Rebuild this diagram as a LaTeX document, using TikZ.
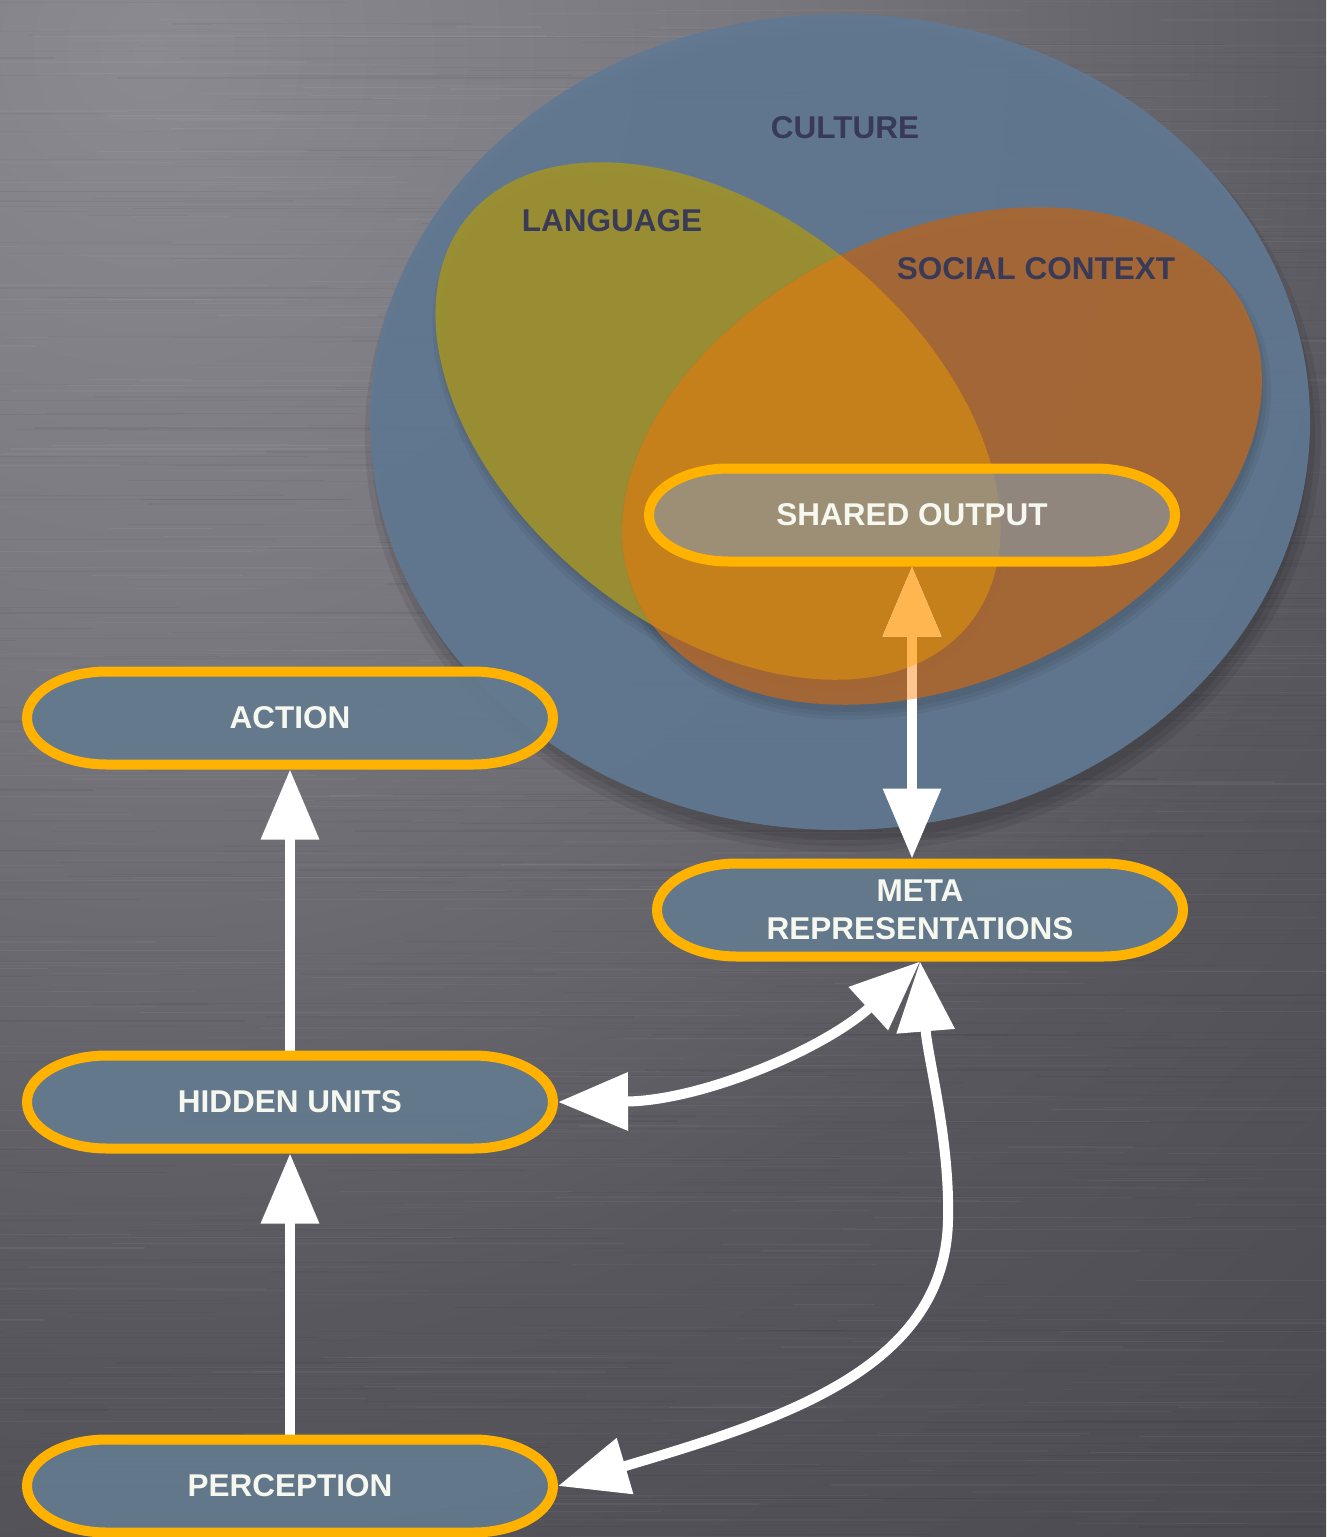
\documentclass[tikz,border=0pt]{standalone}
\usepackage{fontspec}
\setmainfont{Liberation Sans}
\usetikzlibrary{arrows.meta,calc}

\definecolor{bgA}{RGB}{140,138,145}
\definecolor{bgB}{RGB}{122,120,127}
\definecolor{bgC}{RGB}{88,87,94}
\definecolor{bgD}{RGB}{68,67,74}
\definecolor{bgE}{RGB}{57,56,62}
\definecolor{bgF}{RGB}{47,47,53}
\definecolor{culture}{RGB}{97,121,147}
\definecolor{langfill}{RGB}{158,145,45}
\definecolor{socfill}{RGB}{170,103,49}
\definecolor{overlap}{RGB}{199,129,26}
\definecolor{pillborder}{RGB}{255,179,0}
\definecolor{nodefill}{RGB}{102,125,145}
\definecolor{sharedfill}{RGB}{159,180,196}
\definecolor{labnavy}{RGB}{56,58,88}
\definecolor{nodetext}{RGB}{246,248,240}
\definecolor{peach}{RGB}{255,197,144}
\definecolor{tangerine}{RGB}{255,181,80}

\pgfdeclareradialshading{brushed}{\pgfpoint{0bp}{0bp}}{color(0bp)=(bgA); color(7.5bp)=(bgB); color(16bp)=(bgC); color(27.5bp)=(bgD); color(37.5bp)=(bgE); color(50bp)=(bgF)}

\pgfdeclarelayer{bg}
\pgfdeclarelayer{mid}
\pgfdeclarelayer{pill}
\pgfsetlayers{bg,mid,pill,main}

% rounded capsule outline around a named node
\newcommand\drawpill[2][]{%
  \fill[black,opacity=0.22,shift={(3,7)}]
    ($(#2.center)+(-183,-46.5)$) -- ($(#2.center)+(183,-46.5)$)
    arc[start angle=90,end angle=-90,x radius=80pt,y radius=46.5pt]
    -- ($(#2.center)+(-183,46.5)$)
    arc[start angle=270,end angle=90,x radius=80pt,y radius=46.5pt] -- cycle;
  \path[pill,#1]
    ($(#2.center)+(-183,-46.5)$) -- ($(#2.center)+(183,-46.5)$)
    arc[start angle=90,end angle=-90,x radius=80pt,y radius=46.5pt]
    -- ($(#2.center)+(-183,46.5)$)
    arc[start angle=270,end angle=90,x radius=80pt,y radius=46.5pt] -- cycle;}

\begin{document}
\begin{tikzpicture}[x=1pt,y=-1pt,
  box/.style={minimum width=526pt,minimum height=93pt,inner sep=0pt,outer sep=5pt,
    text=nodetext,align=center,font=\bfseries\fontsize{31.5}{38}\selectfont},
  lab/.style={text=labnavy,font=\bfseries\fontsize{31.5}{38}\selectfont},
  pill/.style={draw=pillborder,line width=10pt,fill=nodefill,fill opacity=0.9},
  conn/.style={draw=white,line width=10pt},
  >={Triangle[length=70pt 0 0,width=56pt 0 0]}]

\useasboundingbox (0,0) rectangle (1326,1537);

% labelled boxes
\node[box] (act)  at (290,718)  {ACTION};
\node[box] (hid)  at (290,1102) {HIDDEN UNITS};
\node[box] (per)  at (290,1486) {PERCEPTION};
\node[box] (meta) at (920,910)  {META\\REPRESENTATIONS};
\node[box] (shr)  at (912,515)  {SHARED OUTPUT};

% brushed metal backdrop and the nested sets
\begin{pgfonlayer}{bg}
  \begin{scope}
    \clip (0,0) rectangle (1326,1537);
    \shade[shading=brushed] (150,50) circle [radius=2000pt];
    \pgfmathsetseed{11}
    \foreach \k in {1,...,1100}{
      \pgfmathsetmacro{\yy}{rnd*1537}
      \pgfmathsetmacro{\xa}{rnd*1400-200}
      \pgfmathsetmacro{\len}{80+rnd*500}
      \pgfmathsetmacro{\op}{0.015+rnd*0.04}
      \pgfmathsetmacro{\lw}{0.5+rnd*1.0}
      \ifodd\k\def\tcol{white}\else\def\tcol{black}\fi
      \draw[\tcol,opacity=\op,line width=\lw pt] (\xa,\yy) -- ++(\len,0);
    }
  \end{scope}

  % culture
  \foreach \s in {0,6,12}{
    \fill[black,opacity=0.08] (843,436) ellipse [x radius={466pt+\s pt},y radius={404pt+\s pt}];
  }
  \fill[culture,fill opacity=0.92] (840,422) ellipse [x radius=470pt,y radius=408pt];

  % soft shadows of the inner sets
  \foreach \s in {0,4,8}{
    \fill[black,opacity=0.05,rotate around={-39:(721,430)}] (721,430) ellipse [x radius={321pt+\s pt},y radius={204pt+\s pt}];
    \fill[black,opacity=0.05,rotate around={25:(945,465)}] (945,465) ellipse [x radius={335pt+\s pt},y radius={223pt+\s pt}];
  }

  % language and social context
  \fill[langfill,fill opacity=0.93,rotate around={-39:(718,421)}] (718,421) ellipse [x radius=323pt,y radius=206pt];
  \fill[socfill,fill opacity=0.93,rotate around={25:(942,456)}] (942,456) ellipse [x radius=337pt,y radius=225pt];
  \begin{scope}
    \clip[rotate around={-39:(718,421)}] (718,421) ellipse [x radius=323pt,y radius=206pt];
    \fill[overlap,fill opacity=0.95,rotate around={25:(942,456)}] (942,456) ellipse [x radius=337pt,y radius=225pt];
  \end{scope}

  \node[lab] (cul) at (845,128) {CULTURE};
  \node[lab] (lng) at (612,221) {LANGUAGE};
  \node[lab] (soc) at (1036,269) {SOCIAL CONTEXT};
\end{pgfonlayer}

% connectors
\begin{pgfonlayer}{mid}
  \draw[conn,->] (hid.north) -- (act.south);
  \draw[conn,->] (per.north) -- (hid.south);
  \draw[conn,<->] (shr.south) -- (shr.south |- meta.north);
  \begin{scope}
    \clip[rotate around={25:(942,456)}] (942,456) ellipse [x radius=337pt,y radius=225pt];
    \draw[conn,draw=peach,<->] (shr.south) -- (shr.south |- meta.north);
    \clip[rotate around={-39:(718,421)}] (718,421) ellipse [x radius=323pt,y radius=206pt];
    \draw[conn,draw=tangerine,<->] (shr.south) -- (shr.south |- meta.north);
  \end{scope}
  \draw[conn,<->] (hid.east) .. controls (700,1101) and (823,1050) .. (meta.south);
  \draw[conn,<->] (meta.south) .. controls (928,1060) and (950,1140) .. (948,1220)
    .. controls (945,1370) and (780,1420) .. (per.east);
\end{pgfonlayer}

% capsule outlines
\begin{pgfonlayer}{pill}
  \drawpill{act}
  \drawpill{hid}
  \drawpill{per}
  \drawpill{meta}
  \drawpill[fill=sharedfill,fill opacity=0.55]{shr}
\end{pgfonlayer}

\end{tikzpicture}
\end{document}
